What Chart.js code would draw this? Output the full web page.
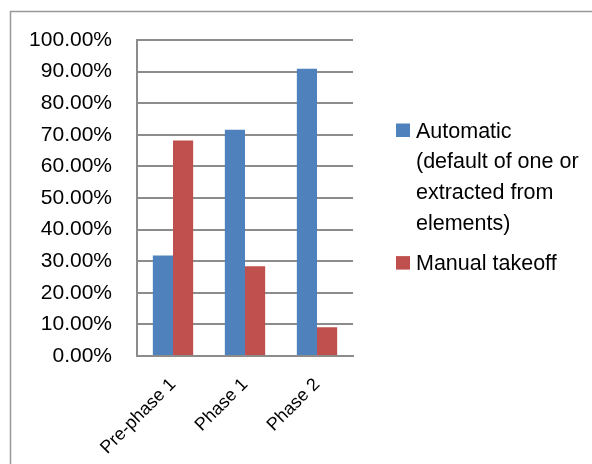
<!DOCTYPE html>
<html>
<head>
<meta charset="utf-8">
<script src="https://cdn.jsdelivr.net/npm/chart.js@4.4.0/dist/chart.umd.min.js"></script>
<style>
  html, body { margin: 0; padding: 0; background: #fff; }
  #wrap { position: relative; width: 592px; height: 464px; }
</style>
</head>
<body>
<div id="wrap"><canvas id="chart" width="592" height="464"></canvas></div>
<script>
// data
const categories = ['Pre-phase 1', 'Phase 1', 'Phase 2'];
const automatic = [31.8, 71.6, 90.9];
const manual = [68.2, 28.4, 9.1];
const seriesNames = ['Automatic\n(default of one or\nextracted from\nelements)', 'Manual takeoff'];
const seriesColors = ['#4F81BD', '#C0504D'];

const gridColor = '#8c8c8c';

// frame round the whole chart (runs off the right and bottom edge)
const framePlugin = {
    id: 'frame',
    beforeDraw: function(chart) {
        const ctx = chart.ctx;
        ctx.save();
        ctx.strokeStyle = '#999';
        ctx.lineWidth = 1.5;
        ctx.strokeRect(10.5, 11.5, 700, 600);
        ctx.restore();
    }
};

// legend on the right, labels can have several lines
const sideLegend = {
    id: 'sideLegend',
    afterDraw: function(chart) {
        const ctx = chart.ctx;
        const x = 396;
        let baseline = 137.5;
        const lineH = 30.7;
        ctx.save();
        ctx.font = '21.5px "Liberation Sans", Arial, sans-serif';
        ctx.textBaseline = 'alphabetic';
        ctx.textAlign = 'left';
        chart.data.datasets.forEach(function(ds) {
            const lines = ds.label.split('\n');
            ctx.fillStyle = ds.backgroundColor;
            ctx.fillRect(x, baseline - 14, 14, 13.5);
            ctx.fillStyle = '#000';
            lines.forEach(function(line, i) {
                ctx.fillText(line, x + 20, baseline + i * lineH);
            });
            baseline += lines.length * lineH + 9.8;
        });
        ctx.restore();
    }
};

const ctx = document.getElementById('chart').getContext('2d');
const chart = new Chart(ctx, {
    type: 'bar',
    data: {
        labels: categories,
        datasets: [
            {
                label: seriesNames[0],
                data: automatic,
                backgroundColor: seriesColors[0],
                categoryPercentage: 0.56,
                barPercentage: 1.0
            },
            {
                label: seriesNames[1],
                data: manual,
                backgroundColor: seriesColors[1],
                categoryPercentage: 0.56,
                barPercentage: 1.0
            }
        ]
    },
    options: {
        responsive: false,
        animation: false,
        layout: {
            padding: { top: 40, right: 239, left: 0, bottom: 0 }
        },
        plugins: {
            legend: { display: false },
            tooltip: { enabled: false }
        },
        scales: {
            x: {
                grid: { display: false, drawTicks: false },
                border: { display: true, color: gridColor, width: 2 },
                ticks: {
                    minRotation: 45,
                    maxRotation: 45,
                    padding: 18,
                    color: '#000',
                    font: { family: '"Liberation Sans", Arial, sans-serif', size: 18 }
                },
                afterFit: function(scale) { scale.height = 108; }
            },
            y: {
                min: 0,
                max: 100,
                grid: { color: gridColor, lineWidth: 2, drawTicks: false },
                border: { display: true, color: gridColor, width: 2 },
                ticks: {
                    stepSize: 10,
                    autoSkip: false,
                    padding: 25,
                    color: '#000',
                    font: { family: '"Liberation Sans", Arial, sans-serif', size: 21 },
                    callback: function(v) { return v.toFixed(2) + '%'; }
                },
                afterFit: function(scale) { scale.width = 137; }
            }
        }
    },
    plugins: [framePlugin, sideLegend]
});
</script>
</body>
</html>
